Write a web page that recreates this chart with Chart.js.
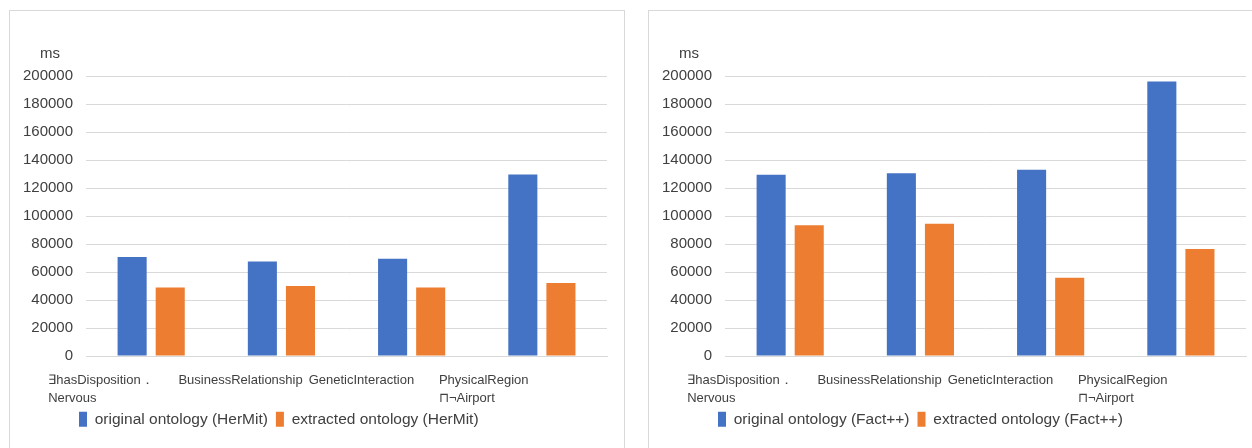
<!DOCTYPE html>
<html>
<head>
<meta charset="utf-8">
<script src="https://cdn.jsdelivr.net/npm/chart.js@4/dist/chart.umd.min.js"></script>
<style>
  body { margin: 0; background: #fff; width: 1252px; height: 448px; overflow: hidden; position: relative; }
  .panel { position: absolute; top: 10px; width: 614px; height: 460px; border: 1px solid #d9d9d9; background: #fff; }
  .panel canvas { position: absolute; left: 0; top: 0; }
</style>
</head>
<body>
<div class="panel" style="left:9px"><canvas id="hermitChart" width="613" height="445"></canvas></div>
<div class="panel" style="left:648px"><canvas id="factChart" width="613" height="445"></canvas></div>
<script>
// categories (queried concepts)
var categories = [
  ['\u2203hasDisposition\uFF0E', 'Nervous'],
  'BusinessRelationship',
  'GeneticInteraction',
  ['PhysicalRegion', '\u2293\u00ACAirport']
];

// reasoning time in ms
var hermitOriginal = [70800, 67500, 69600, 129700];
var hermitExtracted = [49000, 50000, 49000, 52200];
var factOriginal = [129500, 130500, 133000, 196000];
var factExtracted = [93500, 94500, 56000, 76500];

var yTicks = [0, 20000, 40000, 60000, 80000, 100000, 120000, 140000, 160000, 180000, 200000];

var BLUE = '#4472C4';
var ORANGE = '#ED7D31';
var FONT = "'Liberation Sans', Arial, sans-serif";

// draws the unit "ms" above the value axis and nudges the legend into place
var unitPlugin = {
  id: 'unitLabel',
  afterLayout: function(chart) {
    var lg = chart.legend;
    if (lg) {
      lg.left += 61;
      lg.right += 61;
      lg.top -= 19;
      lg.bottom -= 19;
    }
  },
  afterDraw: function(chart) {
    var ctx = chart.ctx;
    var y = chart.scales.y;
    ctx.save();
    ctx.font = '15px ' + FONT;
    ctx.fillStyle = '#404040';
    ctx.textAlign = 'center';
    ctx.textBaseline = 'middle';
    ctx.fillText('ms', (y.left + y.right) / 2 + 2, chart.chartArea.top - 22);
    ctx.restore();
  }
};

function makeChart(id, original, extracted, reasoner) {
  var canvas = document.getElementById(id);
  if (!canvas) {
    console.error("Canvas element with id '" + id + "' not found.");
    return;
  }
  new Chart(canvas.getContext('2d'), {
    type: 'bar',
    data: {
      labels: categories,
      datasets: [
        {
          label: 'original ontology (' + reasoner + ')',
          data: original,
          backgroundColor: BLUE,
          categoryPercentage: 0.585,
          barPercentage: 0.763
        },
        {
          label: 'extracted ontology (' + reasoner + ')',
          data: extracted,
          backgroundColor: ORANGE,
          categoryPercentage: 0.585,
          barPercentage: 0.763
        }
      ]
    },
    options: {
      responsive: false,
      animation: false,
      layout: { padding: { left: 0, right: 16, top: 65, bottom: 0 } },
      scales: {
        x: {
          grid: { display: false, drawTicks: false },
          border: { color: '#d9d9d9' },
          ticks: {
            color: '#404040',
            font: { family: FONT, size: 13, lineHeight: 1.4 },
            padding: 15,
            align: 'start',
            labelOffset: -103,
            maxRotation: 0,
            autoSkip: false
          },
          afterFit: function(scale) {
            scale.paddingLeft = 0;
            scale.paddingRight = 0;
          }
        },
        y: {
          min: 0,
          max: 200000,
          afterBuildTicks: function(scale) {
            scale.ticks = yTicks.map(function(v) { return { value: v }; });
          },
          grid: { color: '#d9d9d9', drawTicks: false },
          border: { display: false },
          ticks: {
            color: '#404040',
            font: { family: FONT, size: 15 },
            padding: 13,
            callback: function(v) { return String(v); }
          }
        }
      },
      plugins: {
        legend: {
          position: 'bottom',
          align: 'start',
          labels: {
            color: '#404040',
            font: { family: FONT, size: 15.5 },
            boxWidth: 8,
            boxHeight: 15,
            padding: 8
          }
        },
        tooltip: { enabled: false }
      }
    },
    plugins: [unitPlugin]
  });
}

makeChart('hermitChart', hermitOriginal, hermitExtracted, 'HerMit');
makeChart('factChart', factOriginal, factExtracted, 'Fact++');
</script>
</body>
</html>
